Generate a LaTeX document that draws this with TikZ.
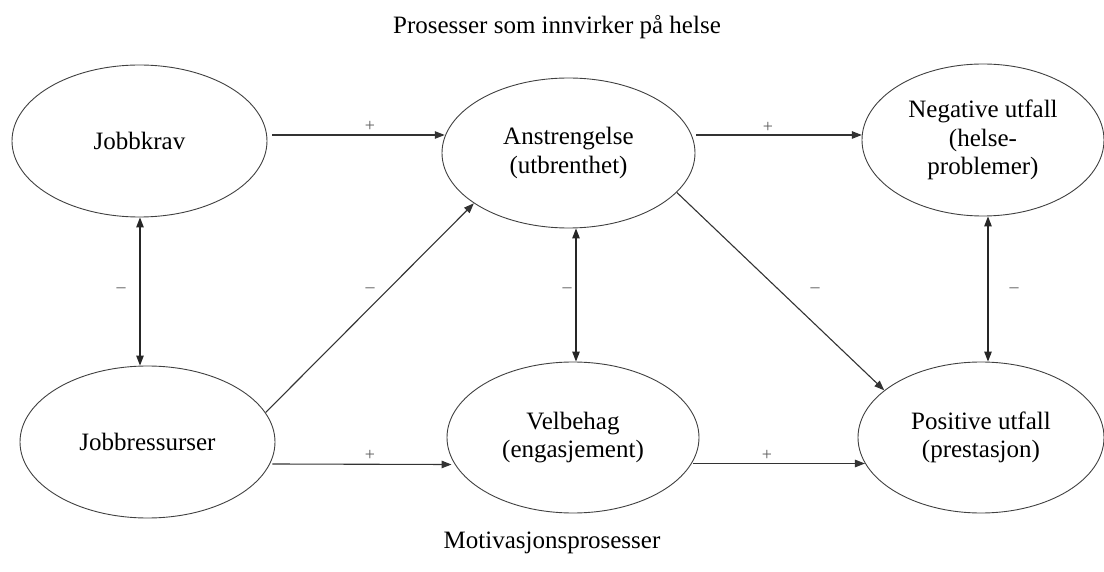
\documentclass[tikz,border=0pt]{standalone}
\usepackage{fontspec}
\setmainfont{Liberation Serif}
\usetikzlibrary{shapes.geometric,arrows.meta}
\begin{document}
\begin{tikzpicture}[x=1pt,y=-1pt,
  oval/.style={ellipse,draw=black!75,line width=0.9pt,inner sep=0pt,align=center,
    font=\fontsize{25}{28.5}\selectfont},
  arr/.style={draw=black!80,line width=1.1pt,-{Triangle[length=10pt,width=7.5pt]}},
  darr/.style={draw=black!85,line width=1.1pt,{Triangle[length=10pt,width=7.5pt]}-{Triangle[length=10pt,width=7.5pt]}},
  sgn/.style={text=black!65,font=\fontsize{18}{18}\selectfont,inner sep=0pt},
  caption/.style={font=\fontsize{25}{28}\selectfont,inner sep=0pt}]
\useasboundingbox (0,0) rectangle (1104,572);
\node[caption] (t1) at (557,27) {Prosesser som innvirker på helse};
\node[caption] (t2) at (552,543) {Motivasjonsprosesser};
\node[oval,minimum width=255pt,minimum height=152pt] (jk) at (139.5,141) {Jobbkrav};
\node[oval,minimum width=253pt,minimum height=150pt] (an) at (568.5,153) {Anstrengelse\\(utbrenthet)};
\node[oval,minimum width=242pt,minimum height=152pt] (neg) at (983,140) {Negative utfall\\(helse-\\problemer)};
\node[oval,minimum width=255pt,minimum height=152pt] (jr) at (147.5,442) {Jobbressurser};
\node[oval,minimum width=252pt,minimum height=151pt] (vel) at (573,437.5) {Velbehag\\(engasjement)};
\node[oval,minimum width=246pt,minimum height=151pt] (pos) at (981,437.5) {Positive utfall\\(prestasjon)};
% connectors
\draw[arr] ([shift={(5,-6)}]jk.east) -- ([shift={(3.2,-18)}]an.west);
\draw[arr] ([shift={(1,-18)}]an.east) -- ([shift={(0.3,-5)}]neg.west);
\draw[darr] ([xshift=0.5]jk.south) -- ([xshift=-7.5]jr.north);
\draw[arr] (jr.14) -- (an.208);
\draw[darr] ([xshift=7.5]an.south) -- ([xshift=3]vel.north);
\draw[arr] (an.-20) -- (pos.154);
\draw[darr] ([xshift=5]neg.south) -- ([xshift=7]pos.north);
\draw[arr] ([shift={(-3,22)}]jr.east) -- ([shift={(5,27)}]vel.west);
\draw[arr] ([shift={(-6,26)}]vel.east) -- ([shift={(7.4,26)}]pos.west);
% signs
\node[sgn] (s1) at (370,126) {+};
\node[sgn] (s2) at (768,127) {+};
\node[sgn] (s3) at (121,290) {–};
\node[sgn] (s4) at (370,290) {–};
\node[sgn] (s5) at (567,290) {–};
\node[sgn] (s6) at (815,290) {–};
\node[sgn] (s7) at (1014,290) {–};
\node[sgn] (s8) at (370,455) {+};
\node[sgn] (s9) at (767,455) {+};
\end{tikzpicture}
\end{document}
